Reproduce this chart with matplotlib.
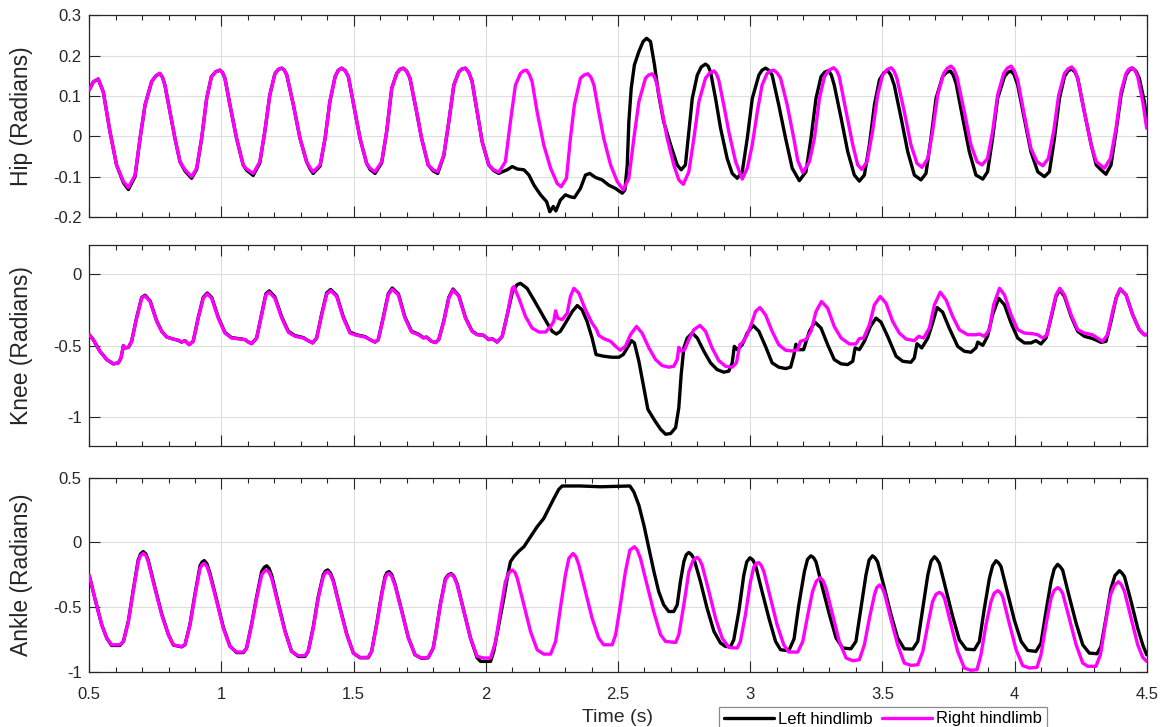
import matplotlib
matplotlib.use('Agg')
import matplotlib.pyplot as plt
from matplotlib.ticker import MultipleLocator, FixedLocator, FixedFormatter

plt.rcParams['font.family'] = ['Liberation Sans', 'DejaVu Sans']
plt.rcParams['axes.unicode_minus'] = False

# ---------------- data (time s, angle rad) ----------------
series_names = ["Left hindlimb", "Right hindlimb"]
panel_labels = ["Hip (Radians)", "Knee (Radians)", "Ankle (Radians)"]
x_ticks = [0.5, 1.0, 1.5, 2.0, 2.5, 3.0, 3.5, 4.0, 4.5]
x_ticklabels = ["0.5", "1", "1.5", "2", "2.5", "3", "3.5", "4", "4.5"]
hip_yticks = [-0.2, -0.1, 0.0, 0.1, 0.2, 0.3]
hip_yticklabels = ["-0.2", "-0.1", "0", "0.1", "0.2", "0.3"]
knee_yticks = [-1.0, -0.5, 0.0]
knee_yticklabels = ["-1", "-0.5", "0"]
ankle_yticks = [-1.0, -0.5, 0.0, 0.5]
ankle_yticklabels = ["-1", "-0.5", "0", "0.5"]

hip_right = [
    (0.500, 0.115), (0.515, 0.135), (0.534, 0.142), (0.553, 0.110), (0.578, 0.012), (0.603, -0.071),
    (0.629, -0.112), (0.648, -0.127), (0.673, -0.096), (0.692, -0.005), (0.711, 0.078), (0.736, 0.136),
    (0.752, 0.150), (0.767, 0.156), (0.777, 0.146), (0.786, 0.127), (0.805, 0.061), (0.824, -0.005),
    (0.843, -0.063), (0.862, -0.083),
    (0.887, -0.100), (0.906, -0.079), (0.925, -0.005), (0.944, 0.094), (0.962, 0.148), (0.978, 0.160),
    (0.994, 0.164), (1.004, 0.158),
    (1.013, 0.144), (1.032, 0.078), (1.057, -0.005), (1.082, -0.071), (1.095, -0.081), (1.120, -0.092),
    (1.145, -0.063), (1.164, 0.012), (1.183, 0.103), (1.202, 0.155), (1.215, 0.166), (1.228, 0.169),
    (1.238, 0.164), (1.247, 0.152),
    (1.272, 0.078), (1.297, -0.005), (1.322, -0.063), (1.335, -0.078), (1.347, -0.088), (1.373, -0.071),
    (1.392, -0.005), (1.410, 0.086), (1.430, 0.148), (1.442, 0.164), (1.455, 0.169), (1.468, 0.163),
    (1.480, 0.148), (1.505, 0.061),
    (1.524, -0.005), (1.549, -0.067), (1.562, -0.079), (1.581, -0.088), (1.606, -0.063), (1.625, 0.012),
    (1.644, 0.119), (1.663, 0.156), (1.675, 0.166), (1.688, 0.169), (1.700, 0.162), (1.713, 0.144),
    (1.738, 0.061), (1.757, -0.005),
    (1.782, -0.071), (1.801, -0.083), (1.818, -0.088), (1.841, -0.046), (1.860, 0.036), (1.879, 0.127),
    (1.898, 0.160), (1.910, 0.167), (1.923, 0.169), (1.936, 0.158), (1.948, 0.136), (1.967, 0.061),
    (1.986, -0.013), (2.011, -0.071),
    (2.030, -0.083), (2.049, -0.089), (2.074, -0.063), (2.093, 0.036), (2.112, 0.127), (2.131, 0.156),
    (2.142, 0.162), (2.154, 0.164), (2.165, 0.153), (2.175, 0.136), (2.194, 0.061), (2.219, -0.021),
    (2.245, -0.079), (2.270, -0.117),
    (2.285, -0.125), (2.305, -0.104), (2.320, -0.005), (2.335, 0.078), (2.358, 0.144), (2.372, 0.152),
    (2.386, 0.155), (2.398, 0.146),
    (2.409, 0.127), (2.427, 0.061), (2.446, -0.005), (2.472, -0.071), (2.497, -0.112), (2.520, -0.133),
    (2.541, -0.104), (2.560, -0.005), (2.579, 0.086), (2.604, 0.144), (2.616, 0.152), (2.629, 0.155),
    (2.639, 0.146), (2.648, 0.127),
    (2.667, 0.061), (2.686, -0.005), (2.711, -0.071), (2.730, -0.108), (2.747, -0.119), (2.768, -0.088),
    (2.787, -0.005), (2.806, 0.086), (2.831, 0.144), (2.847, 0.157), (2.863, 0.162), (2.872, 0.155),
    (2.881, 0.140), (2.900, 0.078),
    (2.919, 0.012), (2.945, -0.063), (2.970, -0.106), (2.989, -0.079), (3.008, -0.021), (3.027, 0.061),
    (3.045, 0.127), (3.064, 0.156), (3.077, 0.162), (3.090, 0.164), (3.102, 0.157), (3.115, 0.144),
    (3.140, 0.078), (3.165, -0.005),
    (3.180, -0.060), (3.199, -0.090), (3.224, -0.063), (3.243, -0.005), (3.262, 0.094), (3.281, 0.148),
    (3.298, 0.164), (3.316, 0.170), (3.327, 0.163), (3.337, 0.148), (3.363, 0.061), (3.388, -0.021),
    (3.407, -0.071), (3.422, -0.082),
    (3.442, -0.063), (3.463, 0.012), (3.482, 0.102), (3.501, 0.152), (3.517, 0.165), (3.533, 0.170),
    (3.544, 0.162), (3.555, 0.144),
    (3.583, 0.061), (3.608, -0.021), (3.631, -0.067), (3.650, -0.077), (3.672, -0.055), (3.690, 0.012),
    (3.709, 0.102), (3.732, 0.156), (3.746, 0.169), (3.760, 0.174), (3.771, 0.166), (3.782, 0.148),
    (3.810, 0.061), (3.835, -0.021),
    (3.858, -0.063), (3.877, -0.071), (3.898, -0.055), (3.917, 0.012), (3.936, 0.102), (3.959, 0.156),
    (3.973, 0.169), (3.987, 0.174), (3.999, 0.163), (4.012, 0.140), (4.037, 0.053), (4.062, -0.030),
    (4.085, -0.063), (4.107, -0.073),
    (4.128, -0.055), (4.148, 0.012), (4.167, 0.102), (4.189, 0.156), (4.202, 0.167), (4.216, 0.172),
    (4.228, 0.163), (4.239, 0.144),
    (4.264, 0.061), (4.290, -0.021), (4.309, -0.063), (4.340, -0.079), (4.363, -0.055), (4.384, 0.020),
    (4.403, 0.111), (4.422, 0.156), (4.432, 0.166), (4.443, 0.170), (4.455, 0.164), (4.466, 0.148),
    (4.485, 0.086), (4.500, 0.020),
]

hip_left = [
    (0.500, 0.115), (0.515, 0.135), (0.534, 0.142), (0.553, 0.110), (0.578, 0.012), (0.603, -0.071),
    (0.629, -0.115), (0.648, -0.132), (0.673, -0.100), (0.692, -0.005), (0.711, 0.078), (0.736, 0.136),
    (0.752, 0.150), (0.767, 0.156), (0.777, 0.146), (0.786, 0.127), (0.805, 0.061), (0.824, -0.005),
    (0.843, -0.063), (0.862, -0.086),
    (0.887, -0.104), (0.906, -0.082), (0.925, -0.005), (0.944, 0.094), (0.962, 0.148), (0.978, 0.160),
    (0.994, 0.164), (1.004, 0.158),
    (1.013, 0.144), (1.032, 0.078), (1.057, -0.005), (1.082, -0.071), (1.095, -0.084), (1.120, -0.097),
    (1.145, -0.066), (1.164, 0.012), (1.183, 0.103), (1.202, 0.155), (1.215, 0.166), (1.228, 0.169),
    (1.238, 0.164), (1.247, 0.152),
    (1.272, 0.078), (1.297, -0.005), (1.322, -0.063), (1.335, -0.081), (1.347, -0.092), (1.373, -0.074),
    (1.392, -0.005), (1.410, 0.086), (1.430, 0.148), (1.442, 0.164), (1.455, 0.169), (1.468, 0.163),
    (1.480, 0.148), (1.505, 0.061),
    (1.524, -0.005), (1.549, -0.067), (1.562, -0.082), (1.581, -0.092), (1.606, -0.066), (1.625, 0.012),
    (1.644, 0.119), (1.663, 0.156), (1.675, 0.166), (1.688, 0.169), (1.700, 0.162), (1.713, 0.144),
    (1.738, 0.061), (1.757, -0.005),
    (1.782, -0.071), (1.801, -0.086), (1.818, -0.092), (1.841, -0.048), (1.860, 0.036), (1.879, 0.127),
    (1.898, 0.160), (1.910, 0.167), (1.923, 0.169), (1.936, 0.158), (1.948, 0.136), (1.967, 0.061),
    (1.986, -0.013), (2.011, -0.071),
    (2.030, -0.085), (2.049, -0.092), (2.062, -0.088), (2.081, -0.083), (2.100, -0.075), (2.119, -0.081),
    (2.144, -0.083), (2.163, -0.096), (2.182, -0.121), (2.207, -0.145), (2.230, -0.162), (2.242, -0.187),
    (2.255, -0.174), (2.265, -0.185), (2.282, -0.158), (2.301, -0.145), (2.320, -0.150), (2.335, -0.152),
    (2.358, -0.129), (2.377, -0.096), (2.393, -0.092), (2.415, -0.102), (2.440, -0.108), (2.465, -0.121),
    (2.490, -0.129), (2.516, -0.141), (2.526, -0.133), (2.535, -0.071), (2.541, 0.036), (2.550, 0.119),
    (2.562, 0.177), (2.579, 0.210), (2.595, 0.235), (2.608, 0.243), (2.623, 0.235), (2.638, 0.177),
    (2.654, 0.102),
    (2.673, 0.036), (2.699, -0.021), (2.724, -0.071), (2.739, -0.083), (2.755, -0.071), (2.768, 0.012),
    (2.781, 0.094), (2.800, 0.152), (2.815, 0.172), (2.831, 0.179), (2.841, 0.174), (2.850, 0.160),
    (2.869, 0.094), (2.888, 0.020),
    (2.913, -0.055), (2.932, -0.092), (2.951, -0.104), (2.970, -0.088), (2.989, -0.005), (3.008, 0.094),
    (3.033, 0.152), (3.045, 0.164), (3.058, 0.169), (3.070, 0.164), (3.083, 0.152), (3.108, 0.078),
    (3.134, -0.005), (3.159, -0.079),
    (3.186, -0.110), (3.211, -0.088), (3.230, -0.005), (3.249, 0.094), (3.268, 0.148), (3.282, 0.159),
    (3.296, 0.163), (3.307, 0.152),
    (3.318, 0.127), (3.344, 0.045), (3.369, -0.038), (3.394, -0.096), (3.413, -0.111), (3.432, -0.096),
    (3.451, -0.021), (3.470, 0.078), (3.489, 0.140), (3.505, 0.157), (3.520, 0.163), (3.532, 0.152),
    (3.545, 0.127), (3.571, 0.045),
    (3.596, -0.038), (3.621, -0.096), (3.646, -0.108), (3.665, -0.092), (3.684, -0.005), (3.703, 0.094),
    (3.728, 0.148), (3.742, 0.158), (3.757, 0.162), (3.768, 0.152), (3.779, 0.131), (3.804, 0.045),
    (3.829, -0.038), (3.854, -0.096),
    (3.880, -0.106), (3.898, -0.088), (3.917, -0.005), (3.936, 0.094), (3.962, 0.148), (3.974, 0.158),
    (3.987, 0.162), (3.999, 0.152),
    (4.012, 0.127), (4.037, 0.045), (4.062, -0.038), (4.088, -0.088), (4.113, -0.100), (4.132, -0.088),
    (4.151, -0.005), (4.170, 0.094), (4.189, 0.148), (4.202, 0.162), (4.216, 0.167), (4.228, 0.160),
    (4.239, 0.144), (4.264, 0.061),
    (4.290, -0.021), (4.309, -0.071), (4.327, -0.083), (4.346, -0.094), (4.365, -0.071), (4.384, 0.012),
    (4.403, 0.102), (4.422, 0.152), (4.434, 0.164), (4.447, 0.169), (4.460, 0.161), (4.472, 0.144),
    (4.491, 0.086), (4.500, 0.045),
]

knee_right = [
    (0.500, -0.424), (0.515, -0.458), (0.540, -0.539), (0.566, -0.597), (0.591, -0.627), (0.610, -0.620),
    (0.620, -0.586), (0.629, -0.500), (0.635, -0.516), (0.648, -0.512), (0.660, -0.470), (0.679, -0.308),
    (0.698, -0.169), (0.711, -0.153), (0.730, -0.192), (0.755, -0.331), (0.774, -0.400), (0.793, -0.440),
    (0.818, -0.454), (0.837, -0.463), (0.849, -0.475), (0.862, -0.465), (0.878, -0.493), (0.893, -0.470),
    (0.912, -0.308), (0.931, -0.169), (0.946, -0.139), (0.963, -0.169), (0.988, -0.308), (1.013, -0.412),
    (1.038, -0.447), (1.070, -0.454), (1.089, -0.458), (1.102, -0.475), (1.114, -0.486), (1.133, -0.447),
    (1.152, -0.285), (1.168, -0.146), (1.181, -0.127), (1.202, -0.169), (1.228, -0.308), (1.253, -0.407),
    (1.278, -0.435), (1.310, -0.447), (1.328, -0.465), (1.345, -0.481), (1.360, -0.447), (1.379, -0.285),
    (1.398, -0.141), (1.413, -0.116), (1.436, -0.157), (1.461, -0.308), (1.486, -0.412), (1.511, -0.428),
    (1.543, -0.440), (1.562, -0.458), (1.581, -0.475), (1.593, -0.458), (1.612, -0.308), (1.631, -0.146),
    (1.646, -0.106), (1.669, -0.146), (1.694, -0.308), (1.719, -0.405), (1.745, -0.424), (1.764, -0.447),
    (1.776, -0.442), (1.795, -0.470), (1.810, -0.478), (1.822, -0.458), (1.841, -0.331), (1.860, -0.169),
    (1.876, -0.111), (1.898, -0.157), (1.923, -0.308), (1.948, -0.400), (1.967, -0.424), (1.992, -0.428),
    (2.011, -0.458), (2.024, -0.451), (2.043, -0.475), (2.062, -0.435), (2.081, -0.285), (2.100, -0.100),
    (2.106, -0.088), (2.125, -0.169), (2.150, -0.296), (2.175, -0.377), (2.201, -0.405), (2.226, -0.405),
    (2.245, -0.366), (2.257, -0.331), (2.264, -0.257), (2.272, -0.308), (2.289, -0.319), (2.308, -0.273),
    (2.320, -0.157), (2.333, -0.100), (2.352, -0.134), (2.377, -0.250), (2.402, -0.343), (2.419, -0.389),
    (2.427, -0.428), (2.446, -0.451), (2.472, -0.470), (2.491, -0.505), (2.509, -0.532), (2.528, -0.505),
    (2.547, -0.424), (2.570, -0.366), (2.591, -0.412), (2.617, -0.516), (2.642, -0.597), (2.667, -0.639),
    (2.692, -0.650), (2.711, -0.644), (2.724, -0.597), (2.730, -0.512), (2.739, -0.539), (2.752, -0.528),
    (2.768, -0.458), (2.787, -0.389), (2.810, -0.359), (2.831, -0.400), (2.856, -0.516), (2.881, -0.604),
    (2.907, -0.644), (2.932, -0.650), (2.948, -0.620), (2.961, -0.493), (2.970, -0.481), (2.989, -0.424),
    (3.008, -0.331), (3.020, -0.262), (3.037, -0.234), (3.058, -0.285), (3.083, -0.400), (3.108, -0.493),
    (3.134, -0.532), (3.160, -0.537), (3.180, -0.528), (3.190, -0.470), (3.211, -0.458), (3.230, -0.400),
    (3.249, -0.262), (3.270, -0.192), (3.293, -0.238), (3.318, -0.366), (3.344, -0.447), (3.375, -0.488),
    (3.400, -0.488), (3.413, -0.451), (3.429, -0.447), (3.451, -0.354), (3.470, -0.215), (3.492, -0.157),
    (3.514, -0.204), (3.539, -0.331), (3.564, -0.412), (3.590, -0.454), (3.621, -0.465), (3.637, -0.435),
    (3.656, -0.447), (3.678, -0.377), (3.697, -0.215), (3.719, -0.127), (3.741, -0.181), (3.766, -0.296),
    (3.791, -0.389), (3.823, -0.424), (3.854, -0.424), (3.867, -0.419), (3.886, -0.435), (3.905, -0.389),
    (3.921, -0.215), (3.943, -0.100), (3.962, -0.146), (3.987, -0.285), (4.012, -0.389), (4.037, -0.412),
    (4.069, -0.417), (4.088, -0.424), (4.107, -0.447), (4.123, -0.424), (4.138, -0.296), (4.157, -0.146),
    (4.171, -0.100), (4.189, -0.146), (4.214, -0.285), (4.239, -0.389), (4.264, -0.412), (4.295, -0.424),
    (4.314, -0.447), (4.333, -0.470), (4.352, -0.424), (4.371, -0.262), (4.388, -0.146), (4.400, -0.104),
    (4.422, -0.146), (4.447, -0.285), (4.472, -0.389), (4.491, -0.424), (4.500, -0.419),
]

knee_left = [
    (0.500, -0.424), (0.515, -0.458), (0.540, -0.539), (0.566, -0.597), (0.591, -0.627), (0.610, -0.620),
    (0.620, -0.586), (0.629, -0.500), (0.635, -0.516), (0.648, -0.512), (0.660, -0.470), (0.679, -0.305),
    (0.698, -0.165), (0.711, -0.148), (0.730, -0.188), (0.755, -0.328), (0.774, -0.400), (0.793, -0.440),
    (0.818, -0.454), (0.837, -0.463), (0.849, -0.475), (0.862, -0.465), (0.878, -0.493), (0.893, -0.470),
    (0.912, -0.305), (0.931, -0.163), (0.946, -0.133), (0.963, -0.163), (0.988, -0.303), (1.013, -0.408),
    (1.038, -0.444), (1.070, -0.452), (1.089, -0.458), (1.102, -0.475), (1.114, -0.486), (1.133, -0.447),
    (1.152, -0.280), (1.168, -0.138), (1.181, -0.118), (1.202, -0.160), (1.228, -0.300), (1.253, -0.400),
    (1.278, -0.430), (1.310, -0.444), (1.328, -0.465), (1.345, -0.481), (1.360, -0.447), (1.379, -0.280),
    (1.398, -0.132), (1.413, -0.108), (1.436, -0.150), (1.461, -0.300), (1.486, -0.405), (1.511, -0.424),
    (1.543, -0.437), (1.562, -0.458), (1.581, -0.475), (1.593, -0.458), (1.612, -0.303), (1.631, -0.138),
    (1.646, -0.098), (1.669, -0.138), (1.694, -0.300), (1.719, -0.400), (1.745, -0.420), (1.764, -0.444),
    (1.776, -0.440), (1.795, -0.470), (1.810, -0.478), (1.822, -0.458), (1.841, -0.328), (1.860, -0.163),
    (1.876, -0.105), (1.898, -0.152), (1.923, -0.305), (1.948, -0.398), (1.967, -0.422), (1.992, -0.428),
    (2.011, -0.458), (2.024, -0.451), (2.043, -0.475), (2.062, -0.435), (2.081, -0.285), (2.100, -0.130),
    (2.118, -0.075), (2.131, -0.065), (2.156, -0.100), (2.182, -0.181), (2.207, -0.262), (2.232, -0.343),
    (2.251, -0.400), (2.267, -0.419), (2.282, -0.400), (2.301, -0.343), (2.327, -0.262), (2.346, -0.220),
    (2.364, -0.250), (2.383, -0.331), (2.402, -0.447), (2.417, -0.562), (2.446, -0.574), (2.478, -0.581),
    (2.503, -0.581), (2.520, -0.562), (2.535, -0.516), (2.551, -0.465), (2.562, -0.481), (2.579, -0.609),
    (2.598, -0.794), (2.613, -0.944), (2.636, -1.014), (2.661, -1.083), (2.680, -1.118), (2.699, -1.113),
    (2.718, -1.072), (2.730, -0.933), (2.739, -0.701), (2.749, -0.516), (2.762, -0.447), (2.781, -0.412),
    (2.800, -0.447), (2.825, -0.539), (2.850, -0.620), (2.875, -0.667), (2.900, -0.685), (2.919, -0.678),
    (2.932, -0.620), (2.940, -0.505), (2.951, -0.528), (2.970, -0.493), (2.989, -0.412), (3.011, -0.359),
    (3.033, -0.400), (3.058, -0.505), (3.083, -0.620), (3.108, -0.650), (3.134, -0.660), (3.153, -0.650),
    (3.165, -0.568), (3.173, -0.490), (3.182, -0.528), (3.202, -0.528), (3.224, -0.400), (3.245, -0.336),
    (3.268, -0.377), (3.293, -0.493), (3.318, -0.597), (3.344, -0.627), (3.369, -0.632), (3.388, -0.609),
    (3.397, -0.516), (3.413, -0.528), (3.432, -0.470), (3.455, -0.366), (3.476, -0.308), (3.495, -0.336),
    (3.520, -0.435), (3.552, -0.574), (3.577, -0.609), (3.608, -0.616), (3.621, -0.586), (3.631, -0.486),
    (3.649, -0.516), (3.672, -0.447), (3.690, -0.343), (3.707, -0.234), (3.728, -0.266), (3.753, -0.377),
    (3.785, -0.505), (3.810, -0.539), (3.835, -0.546), (3.854, -0.516), (3.861, -0.475), (3.880, -0.498),
    (3.898, -0.435), (3.917, -0.285), (3.940, -0.169), (3.962, -0.215), (3.987, -0.343), (4.012, -0.447),
    (4.037, -0.481), (4.062, -0.481), (4.081, -0.465), (4.100, -0.488), (4.119, -0.447), (4.138, -0.308),
    (4.157, -0.157), (4.171, -0.111), (4.189, -0.157), (4.214, -0.296), (4.239, -0.400), (4.264, -0.435),
    (4.289, -0.447), (4.305, -0.458), (4.327, -0.477), (4.346, -0.470), (4.365, -0.331), (4.384, -0.169),
    (4.400, -0.104), (4.422, -0.146), (4.447, -0.285), (4.472, -0.389), (4.491, -0.424), (4.500, -0.424),
]

ankle_right = [
    (0.500, -0.256), (0.521, -0.431), (0.547, -0.636), (0.566, -0.738), (0.584, -0.790), (0.616, -0.790),
    (0.629, -0.764), (0.648, -0.610), (0.666, -0.379), (0.685, -0.149), (0.694, -0.100), (0.704, -0.085),
    (0.714, -0.100), (0.723, -0.149),
    (0.748, -0.354), (0.774, -0.559), (0.799, -0.713), (0.818, -0.790), (0.849, -0.803), (0.862, -0.790),
    (0.881, -0.636), (0.900, -0.405), (0.919, -0.200), (0.927, -0.170), (0.935, -0.162), (0.945, -0.185),
    (0.956, -0.251), (0.982, -0.456),
    (1.007, -0.662), (1.032, -0.803), (1.057, -0.846), (1.083, -0.846), (1.095, -0.815), (1.114, -0.636),
    (1.133, -0.431), (1.152, -0.251), (1.162, -0.222), (1.171, -0.213), (1.180, -0.230), (1.190, -0.277),
    (1.215, -0.482), (1.240, -0.687),
    (1.265, -0.841), (1.291, -0.874), (1.316, -0.874), (1.328, -0.841), (1.347, -0.662), (1.366, -0.431),
    (1.385, -0.264), (1.393, -0.235), (1.402, -0.226), (1.412, -0.248), (1.423, -0.303), (1.448, -0.508),
    (1.474, -0.713), (1.499, -0.854),
    (1.524, -0.887), (1.555, -0.887), (1.568, -0.841), (1.587, -0.636), (1.606, -0.405), (1.619, -0.277),
    (1.626, -0.246), (1.634, -0.238), (1.644, -0.262), (1.656, -0.328), (1.682, -0.533), (1.707, -0.738),
    (1.732, -0.867), (1.757, -0.892),
    (1.782, -0.887), (1.801, -0.815), (1.810, -0.713), (1.828, -0.482), (1.847, -0.290), (1.858, -0.256),
    (1.869, -0.246), (1.880, -0.268),
    (1.892, -0.328), (1.917, -0.533), (1.942, -0.738), (1.967, -0.879), (1.992, -0.892), (2.018, -0.892),
    (2.037, -0.764), (2.055, -0.533), (2.074, -0.303), (2.087, -0.235), (2.100, -0.213), (2.110, -0.230),
    (2.119, -0.277), (2.144, -0.482),
    (2.169, -0.687), (2.194, -0.828), (2.219, -0.862), (2.245, -0.862), (2.264, -0.764), (2.282, -0.508),
    (2.301, -0.251), (2.314, -0.123), (2.330, -0.085), (2.341, -0.110), (2.352, -0.174), (2.377, -0.379),
    (2.402, -0.585),
    (2.427, -0.738), (2.446, -0.790), (2.478, -0.790), (2.491, -0.713), (2.509, -0.482), (2.528, -0.226),
    (2.545, -0.059), (2.562, -0.033), (2.573, -0.058), (2.585, -0.123), (2.610, -0.328), (2.635, -0.533),
    (2.661, -0.713),
    (2.680, -0.764), (2.718, -0.772), (2.730, -0.713), (2.749, -0.482), (2.768, -0.226), (2.785, -0.135),
    (2.800, -0.115), (2.809, -0.135), (2.818, -0.174), (2.844, -0.379), (2.869, -0.585), (2.894, -0.738),
    (2.919, -0.810),
    (2.951, -0.815), (2.963, -0.764), (2.982, -0.559), (3.001, -0.303), (3.014, -0.187), (3.023, -0.162),
    (3.033, -0.156), (3.042, -0.178),
    (3.052, -0.226), (3.077, -0.431), (3.102, -0.636), (3.127, -0.790), (3.146, -0.846), (3.180, -0.846),
    (3.199, -0.764), (3.218, -0.559), (3.236, -0.379), (3.250, -0.300), (3.265, -0.272), (3.276, -0.296),
    (3.287, -0.354), (3.312, -0.559),
    (3.337, -0.764), (3.363, -0.892), (3.388, -0.913), (3.413, -0.905), (3.432, -0.790), (3.451, -0.585),
    (3.470, -0.405), (3.479, -0.348), (3.489, -0.328), (3.498, -0.345), (3.508, -0.392), (3.533, -0.597),
    (3.558, -0.790), (3.583, -0.931),
    (3.608, -0.949), (3.634, -0.944), (3.653, -0.841), (3.672, -0.636), (3.690, -0.456), (3.703, -0.400),
    (3.716, -0.385), (3.726, -0.398),
    (3.735, -0.431), (3.760, -0.636), (3.785, -0.841), (3.810, -0.969), (3.835, -0.987), (3.858, -0.982),
    (3.873, -0.867), (3.892, -0.636), (3.911, -0.456), (3.923, -0.392), (3.936, -0.372), (3.946, -0.385),
    (3.955, -0.418), (3.980, -0.623),
    (4.006, -0.828), (4.031, -0.951), (4.056, -0.969), (4.085, -0.964), (4.100, -0.867), (4.119, -0.636),
    (4.138, -0.431), (4.150, -0.370), (4.163, -0.349), (4.172, -0.360), (4.182, -0.392), (4.207, -0.585),
    (4.233, -0.790), (4.258, -0.931),
    (4.277, -0.956), (4.308, -0.956), (4.325, -0.867), (4.343, -0.636), (4.363, -0.405), (4.378, -0.330),
    (4.393, -0.303), (4.404, -0.325),
    (4.416, -0.379), (4.441, -0.585), (4.466, -0.790), (4.485, -0.887), (4.500, -0.918),
]

ankle_left = [
    (0.500, -0.256), (0.521, -0.431), (0.547, -0.636), (0.566, -0.738), (0.584, -0.795), (0.616, -0.795),
    (0.629, -0.764), (0.648, -0.605), (0.666, -0.370), (0.685, -0.135), (0.694, -0.088), (0.704, -0.070),
    (0.714, -0.088), (0.723, -0.138),
    (0.748, -0.345), (0.774, -0.552), (0.799, -0.710), (0.818, -0.792), (0.849, -0.806), (0.862, -0.790),
    (0.881, -0.630), (0.900, -0.395), (0.919, -0.180), (0.927, -0.150), (0.935, -0.140), (0.945, -0.165),
    (0.956, -0.235), (0.982, -0.445),
    (1.007, -0.655), (1.032, -0.800), (1.057, -0.850), (1.083, -0.850), (1.095, -0.815), (1.114, -0.630),
    (1.133, -0.420), (1.152, -0.225), (1.162, -0.192), (1.171, -0.180), (1.180, -0.200), (1.190, -0.255),
    (1.215, -0.470), (1.240, -0.680),
    (1.265, -0.840), (1.291, -0.880), (1.316, -0.880), (1.328, -0.841), (1.347, -0.655), (1.366, -0.420),
    (1.385, -0.250), (1.393, -0.222), (1.402, -0.212), (1.412, -0.235), (1.423, -0.292), (1.448, -0.500),
    (1.474, -0.708), (1.499, -0.854),
    (1.524, -0.890), (1.555, -0.890), (1.568, -0.841), (1.587, -0.630), (1.606, -0.395), (1.619, -0.262),
    (1.626, -0.233), (1.634, -0.225), (1.644, -0.248), (1.656, -0.318), (1.682, -0.528), (1.707, -0.735),
    (1.732, -0.867), (1.757, -0.895),
    (1.782, -0.890), (1.801, -0.815), (1.810, -0.710), (1.828, -0.475), (1.847, -0.280), (1.858, -0.250),
    (1.869, -0.240), (1.880, -0.262),
    (1.892, -0.322), (1.917, -0.530), (1.942, -0.738), (1.967, -0.890), (1.980, -0.918), (2.018, -0.918),
    (2.030, -0.841), (2.049, -0.636), (2.068, -0.431), (2.083, -0.251), (2.093, -0.149), (2.106, -0.110),
    (2.125, -0.067), (2.144, -0.033), (2.169, 0.044), (2.194, 0.121), (2.219, 0.185), (2.238, 0.262),
    (2.257, 0.338), (2.276, 0.410), (2.289, 0.436), (2.358, 0.436), (2.434, 0.430), (2.484, 0.433),
    (2.545, 0.436), (2.560, 0.390), (2.579, 0.287), (2.598, 0.133), (2.617, -0.046), (2.636, -0.226),
    (2.654, -0.379), (2.673, -0.482), (2.692, -0.533), (2.711, -0.533), (2.724, -0.482), (2.736, -0.303),
    (2.749, -0.149), (2.758, -0.095), (2.768, -0.077), (2.777, -0.092), (2.787, -0.123), (2.812, -0.303),
    (2.837, -0.508), (2.863, -0.687),
    (2.888, -0.777), (2.907, -0.803), (2.926, -0.803), (2.938, -0.751), (2.957, -0.533), (2.976, -0.251),
    (2.987, -0.150), (2.999, -0.118), (3.010, -0.135), (3.020, -0.174), (3.045, -0.379), (3.071, -0.585),
    (3.096, -0.764), (3.115, -0.828),
    (3.146, -0.836), (3.166, -0.745), (3.184, -0.482), (3.205, -0.226), (3.217, -0.130), (3.230, -0.103),
    (3.240, -0.118), (3.249, -0.149),
    (3.274, -0.354), (3.300, -0.559), (3.325, -0.738), (3.350, -0.815), (3.381, -0.821), (3.400, -0.764),
    (3.419, -0.508), (3.438, -0.251), (3.450, -0.135), (3.463, -0.103), (3.472, -0.118), (3.482, -0.149),
    (3.508, -0.354), (3.533, -0.559),
    (3.558, -0.738), (3.583, -0.821), (3.615, -0.823), (3.634, -0.764), (3.653, -0.508), (3.672, -0.251),
    (3.684, -0.145), (3.697, -0.110), (3.706, -0.128), (3.716, -0.162), (3.741, -0.367), (3.766, -0.572),
    (3.791, -0.751), (3.817, -0.823),
    (3.848, -0.828), (3.867, -0.764), (3.886, -0.508), (3.905, -0.277), (3.917, -0.180), (3.930, -0.141),
    (3.940, -0.158), (3.949, -0.187),
    (3.974, -0.392), (3.999, -0.597), (4.025, -0.764), (4.050, -0.833), (4.081, -0.841), (4.100, -0.777),
    (4.119, -0.533), (4.138, -0.303), (4.150, -0.205), (4.163, -0.169), (4.172, -0.185), (4.182, -0.213),
    (4.207, -0.418), (4.233, -0.623),
    (4.258, -0.790), (4.283, -0.854), (4.312, -0.859), (4.327, -0.803), (4.346, -0.585), (4.365, -0.354),
    (4.380, -0.255), (4.397, -0.218), (4.406, -0.235), (4.416, -0.264), (4.441, -0.456), (4.466, -0.662),
    (4.485, -0.790), (4.500, -0.867),
]

# ---------------- layout ----------------
W, H = 1161, 727
fig = plt.figure(figsize=(W / 100, H / 100), dpi=100)
left_px, right_px = 89.3, 1146.7
panel_px = [(15.3, 217.0), (245.3, 446.0), (477.7, 672.0)]
ylims = [(-0.2, 0.3), (-1.2, 0.2), (-1.0, 0.5)]
yticks = [hip_yticks, knee_yticks, ankle_yticks]
yticklabels = [hip_yticklabels, knee_yticklabels, ankle_yticklabels]
data = [(hip_left, hip_right), (knee_left, knee_right), (ankle_left, ankle_right)]

axis_color = '#262626'
black = '#000000'
magenta = '#FF00FF'
lw = 2.4

axes = []
for i, (top, bot) in enumerate(panel_px):
    ax = fig.add_axes([left_px / W, 1 - bot / H, (right_px - left_px) / W, (bot - top) / H])
    axes.append(ax)
    lft, rgt = data[i]
    ax.plot([p[0] for p in lft], [p[1] for p in lft], color=black, lw=lw,
            solid_joinstyle='round', solid_capstyle='round', label=series_names[0], zorder=3)
    ax.plot([p[0] for p in rgt], [p[1] for p in rgt], color=magenta, lw=lw,
            solid_joinstyle='round', solid_capstyle='round', label=series_names[1], zorder=4)
    ax.set_xlim(0.5, 4.5)
    ax.set_ylim(*ylims[i])
    ax.xaxis.set_major_locator(FixedLocator(x_ticks))
    ax.xaxis.set_major_formatter(FixedFormatter(x_ticklabels))
    ax.xaxis.set_minor_locator(MultipleLocator(0.1))
    ax.yaxis.set_major_locator(FixedLocator(yticks[i]))
    ax.yaxis.set_major_formatter(FixedFormatter(yticklabels[i]))
    ax.tick_params(which='major', axis='x', direction='in', top=True, bottom=True,
                   length=7.9, width=0.8, color=axis_color, labelcolor=axis_color,
                   labelsize=12, pad=10.5, labelbottom=(i == 2))
    ax.tick_params(which='minor', axis='x', direction='in', top=True, bottom=True,
                   length=3.8, width=0.8, color=axis_color)
    ax.tick_params(which='major', axis='y', direction='in', left=True, right=True,
                   length=7.7, width=0.8, color=axis_color, labelcolor=axis_color,
                   labelsize=12, pad=5.5)
    for sp in ax.spines.values():
        sp.set_color(axis_color)
        sp.set_linewidth(0.9)
    ax.grid(True, which='major', color='#dedede', linewidth=0.8)
    ax.set_axisbelow(True)
    ax.set_ylabel(panel_labels[i], fontsize=16.5, color=axis_color)
    ax.yaxis.set_label_coords(-0.053, 0.5)

axes[2].set_xlabel("Time (s)", fontsize=14, color=axis_color, va='baseline')
axes[2].xaxis.set_label_coords(0.5, -(721.7 - 672.0) / (672.0 - 477.7))

handles, labels = axes[2].get_legend_handles_labels()
leg = fig.legend(handles, labels, loc='upper left', bbox_to_anchor=(719 / W, 1 - 706.5 / H),
                 ncol=2, frameon=True, fancybox=False, edgecolor='#6e6e6e', fontsize=12,
                 handlelength=3.0, handletextpad=0.25, columnspacing=0.55, borderpad=0.3,
                 borderaxespad=0.0)
leg.get_frame().set_linewidth(0.9)

fig.savefig('out.png', dpi=100)
